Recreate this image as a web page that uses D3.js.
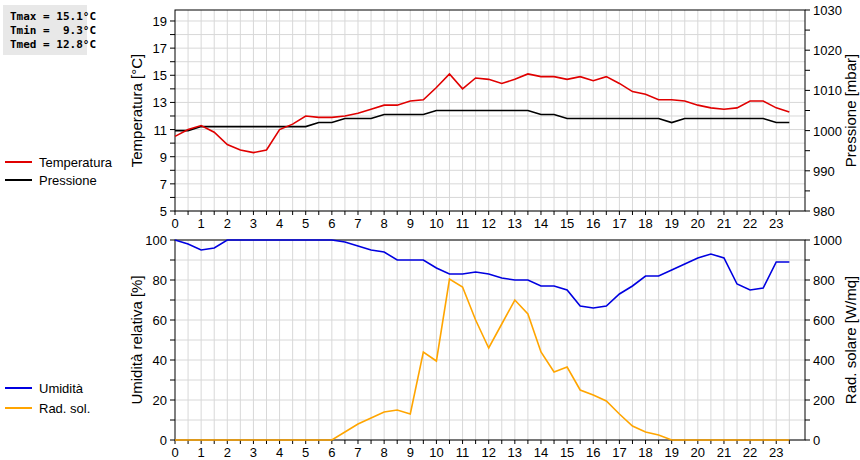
<!DOCTYPE html>
<html><head><meta charset="utf-8">
<script src="https://cdn.jsdelivr.net/npm/d3@7"></script>
<style>body{margin:0;background:#fff}</style>
</head><body>
<svg id="canvas" width="860" height="460"></svg>
<script>
// half-hour readings
let hours = d3.range(0, 24, 0.5);
let temperatura = [10.5,11.0,11.3,10.8,9.9,9.5,9.3,9.5,11.0,11.4,12.0,11.9,11.9,12.0,12.2,12.5,12.8,12.8,13.1,13.2,14.1,15.1,14.0,14.8,14.7,14.4,14.7,15.1,14.9,14.9,14.7,14.9,14.6,14.9,14.4,13.8,13.6,13.2,13.2,13.1,12.8,12.6,12.5,12.6,13.1,13.1,12.6,12.3];
let pressione = [1000,1000,1001,1001,1001,1001,1001,1001,1001,1001,1001,1002,1002,1003,1003,1003,1004,1004,1004,1004,1005,1005,1005,1005,1005,1005,1005,1005,1004,1004,1003,1003,1003,1003,1003,1003,1003,1003,1002,1003,1003,1003,1003,1003,1003,1003,1002,1002];
let umidita = [100,98,95,96,100,100,100,100,100,100,100,100,100,99,97,95,94,90,90,90,86,83,83,84,83,81,80,80,77,77,75,67,66,67,73,77,82,82,85,88,91,93,91,78,75,76,89,89];
let radSol = [0,0,0,0,0,0,0,0,0,0,0,0,0,40,80,110,140,150,130,440,395,805,765,600,460,580,700,630,440,340,365,250,225,195,130,70,40,25,0,0,0,0,0,0,0,0,0,0];
let statLines = ['Tmax = 15.1°C', 'Tmin =  9.3°C', 'Tmed = 12.8°C'];

let canvas = d3.select('#canvas');
let gridCol = '#d8d8d8';
let x = d3.scaleLinear().domain([0, 24.1]).range([175, 805]);

// draws one panel with its grid, axes and lines
let drawPanel = (top, bottom, yL, yR, leftTicks, leftLabels, rightTicks, rightLabels, series, titleL, titleR) => {
    let g = canvas.append('g');
    g.selectAll('line.vg').data(d3.range(0.5, 24, 0.5)).enter().append('line')
        .attr('x1', d => x(d)).attr('x2', d => x(d)).attr('y1', top).attr('y2', bottom)
        .attr('stroke', gridCol);
    g.selectAll('line.hg').data(leftTicks).enter().append('line')
        .attr('x1', 175).attr('x2', 805).attr('y1', d => yL(d)).attr('y2', d => yL(d))
        .attr('stroke', gridCol);
    g.append('rect').attr('x', 175).attr('y', top).attr('width', 630).attr('height', bottom - top)
        .attr('fill', 'none').attr('stroke', '#000');
    let font = '13px "Liberation Sans", Arial, sans-serif';
    // left ticks
    g.selectAll('line.lt').data(leftTicks).enter().append('line')
        .attr('x1', 170).attr('x2', 175).attr('y1', d => yL(d)).attr('y2', d => yL(d)).attr('stroke', '#000');
    g.selectAll('text.ll').data(leftLabels).enter().append('text')
        .attr('x', 167).attr('y', d => yL(d) + 5).attr('text-anchor', 'end')
        .style('font', font).text(d => d);
    g.selectAll('line.rt').data(rightTicks).enter().append('line')
        .attr('x1', 805).attr('x2', 810).attr('y1', d => yR(d)).attr('y2', d => yR(d)).attr('stroke', '#000');
    g.selectAll('text.rl').data(rightLabels).enter().append('text')
        .attr('x', 813).attr('y', d => yR(d) + 5)
        .style('font', font).text(d => d);
    // x ticks
    g.selectAll('line.xt').data(d3.range(0, 24, 0.5)).enter().append('line')
        .attr('x1', d => x(d)).attr('x2', d => x(d)).attr('y1', bottom).attr('y2', bottom + (d => 0) () + 4)
        .attr('stroke', '#000');
    g.selectAll('text.xl').data(d3.range(0, 24)).enter().append('text')
        .attr('x', d => x(d)).attr('y', bottom + 17).attr('text-anchor', 'middle')
        .style('font', font).text(d => d);
    series.forEach(s => {
        g.append('path').datum(s.values)
            .attr('d', d3.line().x((d, i) => x(hours[i])).y(d => s.scale(d)))
            .attr('fill', 'none').attr('stroke', s.color).attr('stroke-width', 1.6);
    });
    let mid = (top + bottom) / 2;
    g.append('text').attr('transform', `translate(142,${mid}) rotate(-90)`).attr('text-anchor', 'middle')
        .style('font', '15px "Liberation Sans", Arial, sans-serif').text(titleL);
    g.append('text').attr('transform', `translate(856,${mid}) rotate(-90)`).attr('text-anchor', 'middle')
        .style('font', '15px "Liberation Sans", Arial, sans-serif').text(titleR);
};

let yT = d3.scaleLinear().domain([5, 19.81]).range([211, 10]);
let yP = d3.scaleLinear().domain([980, 1030]).range([211, 10]);
drawPanel(10, 211, yT, yP, d3.range(5, 20, 1), d3.range(5, 20, 2), d3.range(980, 1031, 5), d3.range(980, 1031, 10),
    [{values: pressione, scale: yP, color: '#000'}, {values: temperatura, scale: yT, color: '#e00000'}],
    'Temperatura [°C]', 'Pressione [mbar]');

let yU = d3.scaleLinear().domain([0, 100]).range([440, 240]);
let yR = d3.scaleLinear().domain([0, 1000]).range([440, 240]);
drawPanel(240, 440, yU, yR, d3.range(0, 101, 10), d3.range(0, 101, 20), d3.range(0, 1001, 100), d3.range(0, 1001, 200),
    [{values: radSol, scale: yR, color: '#ffa500'}, {values: umidita, scale: yU, color: '#0000e0'}],
    'Umidità relativa [%]', 'Rad. solare [W/mq]');

// legends
let legends = [
    {label: 'Temperatura', color: '#e00000', y: 162},
    {label: 'Pressione', color: '#000', y: 180},
    {label: 'Umidità', color: '#0000e0', y: 388},
    {label: 'Rad. sol.', color: '#ffa500', y: 408}
];
canvas.selectAll('line.leg').data(legends).enter().append('line')
    .attr('x1', 5).attr('x2', 32).attr('y1', d => d.y).attr('y2', d => d.y)
    .attr('stroke', d => d.color).attr('stroke-width', 2);
canvas.selectAll('text.leg').data(legends).enter().append('text')
    .attr('x', 39).attr('y', d => d.y + 5)
    .style('font', '13px "Liberation Sans", Arial, sans-serif').text(d => d.label);

// stats box
canvas.append('rect').attr('x', 3).attr('y', 5).attr('width', 84).attr('height', 50).attr('fill', '#e8e8e8');
canvas.selectAll('text.stat').data(statLines).enter().append('text')
    .attr('x', 10).attr('y', (d, i) => 20 + i * 14)
    .style('font', 'bold 11px "DejaVu Sans Mono", monospace').style('white-space', 'pre')
    .attr('xml:space', 'preserve').text(d => d);
</script>
</body></html>
